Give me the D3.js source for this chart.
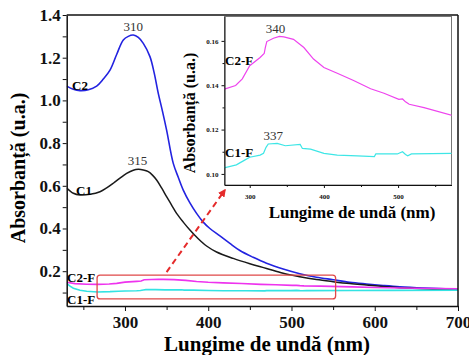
<!DOCTYPE html>
<html>
<head>
<meta charset="utf-8">
<script src="https://cdn.jsdelivr.net/npm/d3@7"></script>
<style>
  body { margin: 0; background: #fff; }
  svg text { font-family: "Liberation Serif", "Times New Roman", serif; }
  .axis path, .axis line { stroke: #111; }
  .axis text { font-weight: bold; fill: #111; }
</style>
</head>
<body>
<svg id="chart" width="469" height="355"></svg>
<script>
// wavelength (nm), absorbance (u.a.)
const c2 = [[230,1.067],[238,1.052],[246,1.046],[256,1.05],[266,1.067],[274,1.1],[282,1.142],[290,1.215],
  [298,1.283],[304,1.300],[310,1.306],[316,1.295],[322,1.267],[330,1.205],[335,1.13],[340,1.033],[345,0.95],
  [350,0.861],[358,0.705],[364,0.64],[370,0.58],[378,0.52],[386,0.471],[394,0.43],[402,0.40],[414,0.365],
  [426,0.33],[438,0.297],[454,0.265],[470,0.237],[490,0.21],[510,0.188],[530,0.172],[550,0.16],[570,0.148],
  [590,0.14],[610,0.133],[630,0.127],[660,0.121],[700,0.115]];
const c1 = [[230,0.59],[238,0.565],[246,0.557],[258,0.56],[270,0.572],[278,0.59],[286,0.612],[294,0.636],
  [302,0.658],[310,0.673],[316,0.677],[322,0.674],[328,0.666],[333,0.65],[338,0.627],[344,0.59],[350,0.549],
  [356,0.51],[362,0.471],[370,0.43],[378,0.393],[388,0.352],[398,0.318],[410,0.29],[430,0.26],[450,0.235],
  [470,0.213],[490,0.19],[510,0.174],[530,0.161],[550,0.151],[570,0.142],[590,0.135],[610,0.128],[630,0.123],
  [650,0.119],[670,0.115],[700,0.112]];
const c2f = [[230,0.148],[240,0.142],[254,0.139],[267,0.1384],[281,0.1399],[290,0.1429],[300,0.1488],[314,0.1525],
  [319.5,0.1543],[321,0.157],[323,0.1597],[332,0.1612],[340,0.162],[346,0.1618],[359,0.1607],[373,0.157],
  [386,0.1518],[400,0.148],[418,0.1454],[440,0.1421],[463,0.1384],[481,0.1364],[501,0.1336],[506,0.1338],
  [510,0.1325],[515,0.1314],[535,0.1299],[573,0.1264],[600,0.124],[650,0.12],[700,0.117]];
const c1f = [[230,0.143],[234,0.13],[238,0.12],[246,0.111],[254,0.106],[267,0.1029],[282,0.1041],[292,0.106],
  [300,0.1075],[314,0.1085],[318.6,0.1093],[322,0.112],[325,0.1135],[337,0.1138],[348,0.1127],[368,0.1133],
  [371,0.1115],[382,0.1112],[400,0.1093],[418,0.1085],[445,0.1081],[468,0.1078],[470,0.109],[499,0.109],
  [506,0.110],[510,0.1088],[513,0.1082],[518,0.109],[573,0.1093],[620,0.110],[700,0.111]];

const mainXTicks = [300, 400, 500, 600, 700];
const mainYTicks = [0.2, 0.4, 0.6, 0.8, 1.0, 1.2, 1.4];
const insetXTicks = [300, 400, 500];
const insetYTicks = [0.10, 0.12, 0.14, 0.16];

// annotations: [wavelength, value, text]
const mainPeaks = [[310, 1.306, '310'], [315, 0.677, '315']];
const insetPeaks = [[340, 0.162, '340'], [337, 0.1138, '337']];

const svg = d3.select('#chart');

// ---- main plot
let x = d3.scaleLinear().domain([230, 700]).range([66.7, 458]);
let y = d3.scaleLinear().domain([0.037, 1.4]).range([306, 15]);

let line = d3.line().x(d => x(d[0])).y(d => y(d[1])).curve(d3.curveCatmullRom);
let lineLin = d3.line().x(d => x(d[0])).y(d => y(d[1]));

svg.append('defs').append('clipPath').attr('id', 'clipMain')
  .append('rect').attr('x', 66.7).attr('y', 15).attr('width', 458 - 66.7).attr('height', 306 - 15);

let g = svg.append('g').attr('clip-path', 'url(#clipMain)');
g.append('path').attr('d', line(c2)).attr('fill', 'none').attr('stroke', '#2323e0').attr('stroke-width', 1.6);
g.append('path').attr('d', line(c1)).attr('fill', 'none').attr('stroke', '#1a1a1a').attr('stroke-width', 1.5);
g.append('path').attr('d', lineLin(c2f)).attr('fill', 'none').attr('stroke', '#ee33ee').attr('stroke-width', 1.6);
g.append('path').attr('d', lineLin(c1f)).attr('fill', 'none').attr('stroke', '#33e3e3').attr('stroke-width', 1.6);

// axes
let xAxis = svg.append('g').attr('class', 'axis').attr('transform', 'translate(0,306)')
  .call(d3.axisBottom(x).tickValues(mainXTicks).tickSize(5).tickSizeOuter(0).tickFormat(d3.format('d')));
xAxis.selectAll('text').style('font-size', '17px').attr('dy', '0.85em');
svg.append('g').attr('class', 'axis').attr('transform', 'translate(0,306)')
  .call(d3.axisBottom(x).tickValues([250, 350, 450, 550, 650]).tickSize(4).tickFormat(''))
  .select('.domain').remove();

let yAxis = svg.append('g').attr('class', 'axis').attr('transform', 'translate(66.7,0)')
  .call(d3.axisLeft(y).tickValues(mainYTicks).tickSize(4).tickSizeOuter(0).tickFormat(d3.format('.1f')));
yAxis.selectAll('text').style('font-size', '17px').attr('x', -6);
svg.append('g').attr('class', 'axis').attr('transform', 'translate(66.7,0)')
  .call(d3.axisLeft(y).tickValues([0.1, 0.3, 0.5, 0.7, 0.9, 1.1, 1.3]).tickSize(4).tickFormat(''))
  .select('.domain').remove();

svg.selectAll('.axis .domain').attr('stroke-width', 1.5);

// frame top/right
svg.append('line').attr('x1', 66.7).attr('x2', 458).attr('y1', 15).attr('y2', 15)
  .attr('stroke', '#111').attr('stroke-width', 1.5);
svg.append('line').attr('x1', 458).attr('x2', 458).attr('y1', 15).attr('y2', 306)
  .attr('stroke', '#111').attr('stroke-width', 1.5);

svg.append('text').attr('x', 267).attr('y', 351).attr('text-anchor', 'middle')
  .style('font-size', '21px').style('font-weight', 'bold').text('Lungime de undă (nm)');
svg.append('text').attr('transform', 'translate(25,168) rotate(-90)').attr('text-anchor', 'middle')
  .style('font-size', '20px').style('font-weight', 'bold').text('Absorbanță (u.a.)');

mainPeaks.forEach(p => {
  svg.append('text').attr('x', x(p[0])).attr('y', y(p[1]) - 4).attr('text-anchor', 'middle')
    .style('font-size', '13px').attr('fill', '#333').text(p[2]);
});

// curve labels
svg.append('text').attr('x', 72).attr('y', 90).style('font-size', '13px').style('font-weight', 'bold').text('C2');
svg.append('text').attr('x', 76).attr('y', 195).style('font-size', '13px').style('font-weight', 'bold').text('C1');
svg.append('text').attr('x', 67).attr('y', 282).style('font-size', '13px').style('font-weight', 'bold').text('C2-F');
svg.append('text').attr('x', 67).attr('y', 303.5).style('font-size', '13px').style('font-weight', 'bold').text('C1-F');

// zoom box and arrow
svg.append('rect')
  .attr('x', x(266.5)).attr('y', y(0.182))
  .attr('width', x(553) - x(266.5)).attr('height', y(0.07) - y(0.182))
  .attr('rx', 3).attr('fill', 'none').attr('stroke', '#e04848').attr('stroke-width', 1.3);

svg.select('defs').append('marker').attr('id', 'arrow')
  .attr('viewBox', '0 0 10 10').attr('refX', 8).attr('refY', 5)
  .attr('markerWidth', 4).attr('markerHeight', 4).attr('orient', 'auto')
  .append('path').attr('d', 'M0,0L10,5L0,10Z').attr('fill', '#e52b2b');

svg.append('line')
  .attr('x1', x(350)).attr('y1', y(0.196)).attr('x2', x(420)).attr('y2', y(0.58))
  .attr('stroke', '#e52b2b').attr('stroke-width', 2).attr('stroke-dasharray', '6,4')
  .attr('marker-end', 'url(#arrow)');

// ---- inset
let ix = d3.scaleLinear().domain([266, 572]).range([224.5, 451.5]);
let iy = d3.scaleLinear().domain([0.095, 0.171]).range([185, 16.5]);
let iline = d3.line().x(d => ix(d[0])).y(d => iy(d[1]));

svg.append('rect').attr('x', 224.5).attr('y', 16.5).attr('width', 451.5 - 224.5).attr('height', 185 - 16.5)
  .attr('fill', '#fff').attr('stroke', '#777').attr('stroke-width', 1);

svg.select('defs').append('clipPath').attr('id', 'clipInset')
  .append('rect').attr('x', 224.5).attr('y', 16.5).attr('width', 451.5 - 224.5).attr('height', 185 - 16.5);

let ig = svg.append('g').attr('clip-path', 'url(#clipInset)');
ig.append('path').attr('d', iline(c2f)).attr('fill', 'none').attr('stroke', '#ee44ee').attr('stroke-width', 1.2);
ig.append('path').attr('d', iline(c1f)).attr('fill', 'none').attr('stroke', '#3ee6e6').attr('stroke-width', 1.2);

let ixAxis = svg.append('g').attr('class', 'axis').attr('transform', 'translate(0,185)')
  .call(d3.axisBottom(ix).tickValues(insetXTicks).tickSize(3).tickSizeOuter(0).tickFormat(d3.format('d')));
ixAxis.selectAll('text').style('font-size', '7px').attr('dy', '1.2em');
svg.append('g').attr('class', 'axis').attr('transform', 'translate(0,185)')
  .call(d3.axisBottom(ix).tickValues([350, 450, 550]).tickSize(2).tickFormat(''))
  .select('.domain').remove();

let iyAxis = svg.append('g').attr('class', 'axis').attr('transform', 'translate(224.5,0)')
  .call(d3.axisLeft(iy).tickValues(insetYTicks).tickSize(3).tickSizeOuter(0).tickFormat(d3.format('.2f')));
iyAxis.selectAll('text').style('font-size', '7px');
svg.append('g').attr('class', 'axis').attr('transform', 'translate(224.5,0)')
  .call(d3.axisLeft(iy).tickValues([0.11, 0.13, 0.15]).tickSize(2).tickFormat(''))
  .select('.domain').remove();

svg.append('text').attr('x', 352).attr('y', 218).attr('text-anchor', 'middle')
  .style('font-size', '17px').style('font-weight', 'bold').text('Lungime de undă (nm)');
svg.append('text').attr('transform', 'translate(195,113) rotate(-90)').attr('text-anchor', 'middle')
  .style('font-size', '16px').style('font-weight', 'bold').text('Absorbanță (u.a.)');

insetPeaks.forEach(p => {
  svg.append('text').attr('x', ix(p[0]) - 4).attr('y', iy(p[1]) - 3).attr('text-anchor', 'middle')
    .style('font-size', '13px').attr('fill', '#333').text(p[2]);
});

svg.append('text').attr('x', 225).attr('y', 65).style('font-size', '13px').style('font-weight', 'bold').text('C2-F');
svg.append('text').attr('x', 225).attr('y', 157).style('font-size', '13px').style('font-weight', 'bold').text('C1-F');

// d3 axes set a sans-serif font on their groups; let the serif rule apply
svg.selectAll('.axis').attr('font-family', null);
</script>
</body>
</html>
